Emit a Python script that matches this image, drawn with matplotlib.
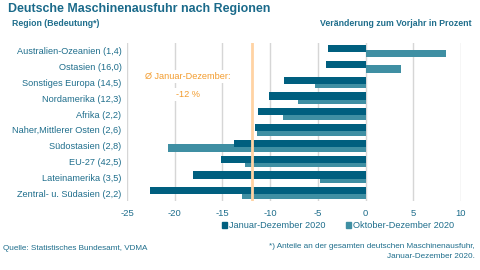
import numpy as np
import matplotlib.pyplot as plt
from matplotlib.patches import Patch

plt.rcParams['font.family'] = ['Liberation Sans', 'DejaVu Sans']

regionen = ["Australien-Ozeanien (1,4)", "Ostasien (16,0)", "Sonstiges Europa (14,5)",
            "Nordamerika (12,3)", "Afrika (2,2)", "Naher,Mittlerer Osten (2,6)",
            "Südostasien (2,8)", "EU-27 (42,5)", "Lateinamerika (3,5)",
            "Zentral- u. Südasien (2,2)"]
jan_dez = [-3.9, -4.15, -8.6, -10.1, -11.3, -11.6, -13.75, -15.15, -18.1, -22.6]
okt_dez = [8.4, 3.75, -5.3, -7.1, -8.7, -11.35, -20.7, -12.6, -4.75, -12.95]
mittel = -11.9
xticks = [-25, -20, -15, -10, -5, 0, 5, 10]

dunkel = "#005F7F"
hell = "#3F8FA3"
textfarbe = "#1F6E8C"
orange = "#F39C2E"

fig = plt.figure(figsize=(4.8, 2.7), dpi=100)
ax = fig.add_axes([127/480, 1 - 201/270, (461 - 127)/480, (201 - 43)/270])

y = np.arange(len(regionen))
h = 0.45
ax.barh(y + 0.145, okt_dez, height=h, color=hell, zorder=2)
ax.barh(y - 0.145, jan_dez, height=h, color=dunkel, zorder=3)

ax.axvline(mittel, color="#FFD3A3", lw=2, zorder=4)

ax.set_xlim(-25, 10)
ax.set_ylim(len(regionen) - 0.5, -0.5)
ax.set_xticks(xticks)
ax.set_xticklabels([str(t) for t in xticks], fontsize=6.8, color=textfarbe)
ax.set_yticks(y)
ax.set_yticklabels(regionen, fontsize=6.6, color=textfarbe)
ax.tick_params(length=0, pad=4)
ax.tick_params(axis="x", pad=6)
for s in ax.spines.values():
    s.set_visible(False)
ax.grid(axis="x", color="#D6D6D6", lw=1, zorder=0)
ax.set_axisbelow(True)

ax.text(-18.6, 1.6, "Ø Januar-Dezember:", color=orange, fontsize=6.6, ha="center", va="center",
        bbox=dict(facecolor="white", edgecolor="none", pad=1.5), zorder=5)
ax.text(-18.6, 2.75, "-12 %", color=orange, fontsize=6.6, ha="center", va="center",
        bbox=dict(facecolor="white", edgecolor="none", pad=1.5), zorder=5)

fig.text(8/480, 1 - 9/270, "Deutsche Maschinenausfuhr nach Regionen", fontsize=8.9,
         fontweight="bold", color="#1A6A8A", ha="left", va="center")
fig.text(12/480, 1 - 23/270, "Region (Bedeutung*)", fontsize=6.3, fontweight="bold",
         color=textfarbe, ha="left", va="center")
fig.text(472/480, 1 - 23/270, "Veränderung zum Vorjahr in Prozent", fontsize=6.3,
         fontweight="bold", color=textfarbe, ha="right", va="center")

handles = [Patch(color=dunkel, label="Januar-Dezember 2020"),
           Patch(color=hell, label="Oktober-Dezember 2020")]
leg = fig.legend(handles=handles, loc="center", bbox_to_anchor=(338/480, 1 - 226/270), ncol=2,
                 frameon=False, fontsize=6.6, handlelength=0.6, handleheight=0.6,
                 handletextpad=0.2, columnspacing=2.2)
for t in leg.get_texts():
    t.set_color(textfarbe)

fig.text(3/480, 1 - 248/270, "Quelle: Statistisches Bundesamt, VDMA", fontsize=5.9,
         color=textfarbe, ha="left", va="center")
fig.text(475/480, 1 - 247/270, "*) Anteile an der gesamten deutschen Maschinenausfuhr,",
         fontsize=5.9, color=textfarbe, ha="right", va="center")
fig.text(475/480, 1 - 257/270, "Januar-Dezember 2020.", fontsize=5.9,
         color=textfarbe, ha="right", va="center")

fig.savefig("out.png", dpi=100)
